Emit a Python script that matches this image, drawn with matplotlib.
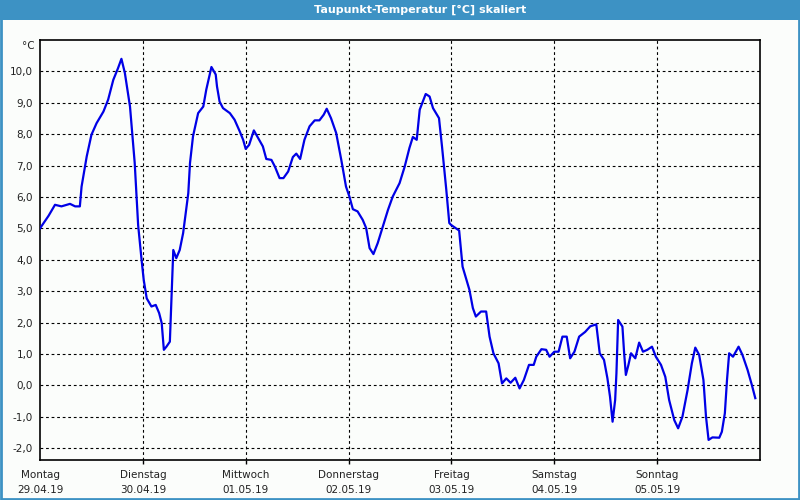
import numpy as np
import matplotlib
matplotlib.use('Agg')
import matplotlib.pyplot as plt
from matplotlib.patches import Rectangle
from matplotlib.ticker import FuncFormatter

# Dew point temperature over one week (hours since Monday 00:00, degrees C)
hours = [0.0, 2.0, 3.5, 5.0, 7.0, 8.2, 9.3, 9.7, 10.9, 12.0, 13.2, 14.8, 15.9, 17.1, 18.2, 19.0,
         19.8, 21.0, 22.1, 22.9, 23.7, 24.2, 24.9, 26.0, 27.0, 27.8, 28.4, 28.9, 29.5, 30.3,
         30.5, 30.8, 31.1, 31.8, 32.6, 33.4, 34.0, 34.6, 35.0, 35.7, 36.9, 38.1, 38.8, 40.0,
         41.0, 41.3, 41.9, 42.7, 44.3, 45.4, 46.6, 47.4, 48.0, 48.8, 49.9, 50.9, 52.0, 52.8,
         54.0, 54.8, 55.9, 56.8, 57.9, 59.0, 59.8, 60.7, 61.7, 62.9, 64.1, 65.2, 66.2, 66.9,
         67.9, 69.1, 70.3, 71.4, 72.2, 73.0, 74.1, 75.3, 76.1, 76.9, 77.8, 78.8, 80.0, 81.2,
         82.3, 83.9, 85.1, 86.2, 87.0, 87.9, 88.6, 90.0, 90.9, 91.7, 93.1, 93.8, 94.8, 95.5,
         95.9, 97.8, 98.6, 100.2, 101.0, 101.7, 102.9, 104.1, 104.9, 105.8, 107.0, 107.8,
         108.8, 109.8, 110.9, 111.9, 112.9, 114.1, 115.2, 115.8, 117.0, 118.1, 118.9, 120.0,
         121.0, 121.9, 122.9, 123.7, 124.7, 125.8, 127.2, 128.4, 129.8, 130.6, 131.6, 132.4,
         133.0, 133.6, 134.2, 134.5, 134.9, 135.9, 136.3, 136.7, 137.3, 137.9, 138.9, 139.8,
         140.7, 141.7, 142.8, 143.7, 144.9, 145.9, 146.8, 148.0, 148.9, 149.9, 151.1, 152.1,
         152.9, 153.8, 154.8, 155.4, 156.0, 156.9, 158.5, 159.1, 159.8, 160.3, 160.8, 161.7,
         163.0, 163.9, 165.1, 166.1, 166.9]
taupunkt = [5.0, 5.4, 5.75, 5.7, 5.78, 5.7, 5.7, 6.33, 7.29, 7.98, 8.35, 8.72, 9.1, 9.73, 10.1, 10.4,
            9.95, 8.88, 7.08, 5.1, 4.0, 3.36, 2.77, 2.51, 2.56, 2.3, 1.98, 1.13, 1.23, 1.39,
            2.14, 3.25, 4.31, 4.05, 4.31, 4.85, 5.48, 6.12, 7.08, 7.93, 8.67, 8.88, 9.42, 10.14,
            9.9, 9.52, 9.04, 8.83, 8.67, 8.46, 8.09, 7.82, 7.53, 7.66, 8.12, 7.88, 7.61, 7.21,
            7.18, 6.97, 6.6, 6.6, 6.81, 7.27, 7.38, 7.21, 7.82, 8.25, 8.44, 8.44, 8.62, 8.81,
            8.51, 8.04, 7.18, 6.33, 6.01, 5.61, 5.54, 5.27, 5.01, 4.37, 4.18, 4.53, 5.06, 5.59,
            6.01, 6.44, 6.97, 7.56, 7.91, 7.82, 8.78, 9.28, 9.2, 8.83, 8.51, 7.61, 6.23, 5.17,
            5.11, 4.93, 3.78, 3.04, 2.46, 2.19, 2.35, 2.35, 1.55, 1.02, 0.7, 0.06,
            0.22, 0.08, 0.24, -0.1, 0.17, 0.65, 0.65, 0.91, 1.15, 1.13, 0.91, 1.07,
            1.07, 1.55, 1.55, 0.86, 1.07, 1.55, 1.7, 1.88, 1.94, 1.02, 0.81, 0.22,
            -0.36, -1.16, -0.47, 0.38, 2.08, 1.87, 1.02, 0.33, 0.65, 1.02, 0.86, 1.36,
            1.07, 1.13, 1.23, 0.91, 0.65, 0.27, -0.47, -1.11, -1.37, -1.0, -0.15, 0.7,
            1.2, 0.97, 0.17, -1.0, -1.74, -1.66, -1.67, -1.48, -0.89, 0.17, 1.02, 0.91,
            1.23, 0.97, 0.49, 0.01, -0.41]

days = ['Montag', 'Dienstag', 'Mittwoch', 'Donnerstag', 'Freitag', 'Samstag', 'Sonntag']
dates = ['29.04.19', '30.04.19', '01.05.19', '02.05.19', '03.05.19', '04.05.19', '05.05.19']
yticks = [-2, -1, 0, 1, 2, 3, 4, 5, 6, 7, 8, 9, 10]

frame_blue = '#3d92c4'
bg = '#fbfdfb'

fig = plt.figure(figsize=(8, 5), dpi=100, facecolor=bg)

# title bar and outer frame
fig.patches.append(Rectangle((0, 0.96), 1, 0.04, transform=fig.transFigure,
                             facecolor=frame_blue, edgecolor='none', zorder=0))
fig.patches.append(Rectangle((0.001, 0.002), 0.998, 0.996, transform=fig.transFigure,
                             facecolor='none', edgecolor=frame_blue, linewidth=2, zorder=0))
fig.text(0.525, 0.98, 'Taupunkt-Temperatur [°C] skaliert', color='white',
         fontsize=8, fontweight='bold', ha='center', va='center')

ax = fig.add_axes([0.05, 0.08, 0.90, 0.84], facecolor=bg)
ax.plot(hours, taupunkt, color='#0000e6', linewidth=1.6, zorder=3)

ax.set_xlim(0, 168)
ax.set_ylim(-2.38, 11.0)

ax.set_yticks(yticks)
ax.yaxis.set_major_formatter(FuncFormatter(lambda v, p: f'{v:.1f}'.replace('.', ',')))
ax.tick_params(axis='y', length=0, pad=5, labelsize=7.5, labelcolor='#222222')

ax.set_xticks([24 * i for i in range(7)])
ax.set_xticklabels([f'{d}\n{t}' for d, t in zip(days, dates)], linespacing=1.6)
ax.tick_params(axis='x', length=3, width=1, pad=4, labelsize=7.5, labelcolor='#222222')
ax.xaxis.get_major_ticks()[0].tick1line.set_visible(False)

for x in range(24, 168, 24):
    ax.axvline(x, color='black', linewidth=0.8, linestyle=(0, (2.5, 2.5)), zorder=1)
for y in yticks:
    ax.axhline(y, color='black', linewidth=0.8, linestyle=(0, (2.5, 2.5)), zorder=1)

for s in ax.spines.values():
    s.set_linewidth(1.2)
    s.set_color('black')

fig.text(0.043, 0.908, '°C', fontsize=7.5, color='#222222', ha='right', va='center')

fig.savefig('out.png', dpi=100, facecolor=bg)
